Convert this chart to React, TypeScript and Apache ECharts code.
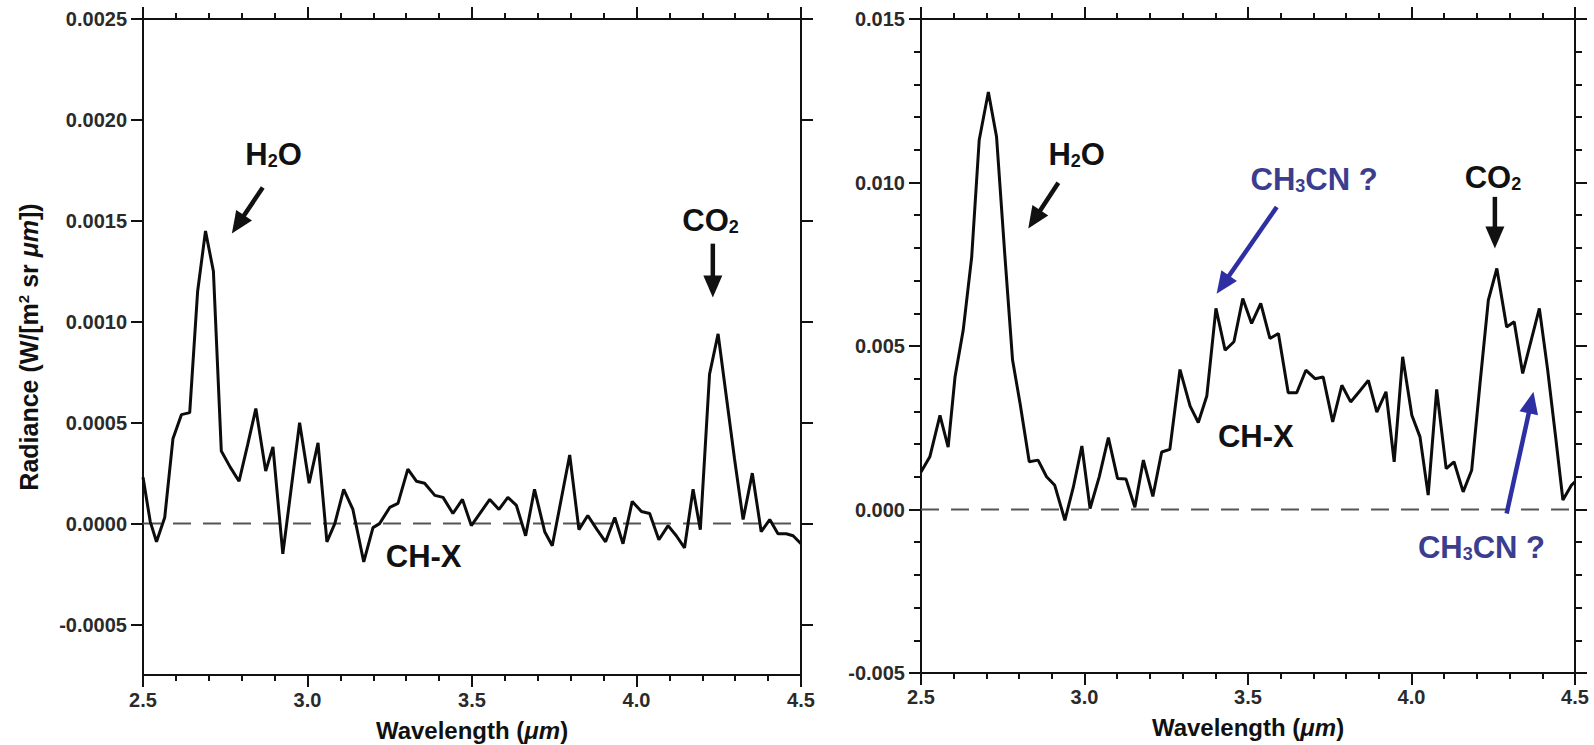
import React, { useEffect, useRef } from "react";
import * as echarts from "echarts";

// ---------- data ----------
const X_MIN = 2.5;
const X_MAX = 4.5;

const LEFT_WL = [
  2.5, 2.522, 2.541, 2.566, 2.591, 2.617, 2.642, 2.666, 2.69, 2.714, 2.738, 2.765, 2.792, 2.818,
  2.843, 2.873, 2.895, 2.925, 2.976, 3.005, 3.032, 3.059, 3.083, 3.11, 3.138, 3.171, 3.199, 3.219,
  3.25, 3.275, 3.305, 3.331, 3.356, 3.387, 3.412, 3.442, 3.471, 3.498, 3.554, 3.582, 3.609, 3.635,
  3.663, 3.69, 3.721, 3.744, 3.797, 3.825, 3.852, 3.88, 3.906, 3.934, 3.959, 3.987, 4.015, 4.04,
  4.068, 4.096, 4.121, 4.146, 4.172, 4.194, 4.222, 4.248, 4.273, 4.298, 4.324, 4.352, 4.379, 4.405,
  4.43, 4.455, 4.476, 4.5,
];
const LEFT_RAD = [
  0.00023, 0.00001, -0.00009, 0.00003, 0.00042, 0.00054, 0.00055, 0.00115, 0.00145, 0.00125,
  0.00036, 0.00028, 0.00021, 0.00039, 0.00057, 0.00026, 0.00038, -0.00015, 0.0005, 0.0002, 0.0004,
  -0.00009, 0.0, 0.00017, 0.00007, -0.00019, -0.00002, 0.0, 0.00008, 0.0001, 0.00027, 0.00021,
  0.0002, 0.00014, 0.00013, 0.00005, 0.00012, -0.00001, 0.00012, 0.00007, 0.00013, 0.00009,
  -0.00006, 0.00017, -0.00004, -0.00011, 0.00034, -0.00003, 0.00004, -0.00003, -0.00009, 0.00003,
  -0.0001, 0.00011, 0.00006, 0.00005, -0.00008, -0.00001, -0.00006, -0.00012, 0.00017, -0.00003,
  0.00074, 0.00094, 0.00063, 0.00032, 0.00002, 0.00025, -0.00004, 0.00002, -0.00005, -0.00005,
  -0.00006, -0.0001,
];

const RIGHT_WL = [
  2.5, 2.527, 2.558, 2.583, 2.604, 2.629, 2.655, 2.678, 2.706, 2.731, 2.756, 2.78, 2.803, 2.831,
  2.858, 2.884, 2.909, 2.94, 2.966, 2.992, 3.017, 3.045, 3.073, 3.101, 3.127, 3.154, 3.18, 3.209,
  3.236, 3.261, 3.292, 3.323, 3.348, 3.374, 3.402, 3.43, 3.457, 3.484, 3.511, 3.539, 3.567, 3.593,
  3.623, 3.649, 3.677, 3.705, 3.73, 3.759, 3.787, 3.814, 3.84, 3.868, 3.894, 3.922, 3.947, 3.973,
  4.001, 4.026, 4.051, 4.077, 4.106, 4.13, 4.158, 4.184, 4.209, 4.235, 4.261, 4.291, 4.314, 4.34,
  4.391, 4.416, 4.441, 4.463, 4.489, 4.5,
];
const RIGHT_RAD = [
  0.00115, 0.00161, 0.00288, 0.00191, 0.00405, 0.00548, 0.00772, 0.0113, 0.01277, 0.0114, 0.00783,
  0.00457, 0.00324, 0.00146, 0.00151, 0.001, 0.00074, -0.00033, 0.00069, 0.00194, 0.00003, 0.001,
  0.0022, 0.00095, 0.00093, 0.00007, 0.00151, 0.0004, 0.00176, 0.00184, 0.00428, 0.00316, 0.00266,
  0.00347, 0.00615, 0.00487, 0.00513, 0.00645, 0.00569, 0.0063, 0.00523, 0.00538, 0.00357, 0.00357,
  0.00426, 0.004, 0.00405, 0.00268, 0.0038, 0.00329, 0.0036, 0.00395, 0.00298, 0.0036, 0.00146,
  0.00467, 0.00288, 0.00222, 0.00044, 0.00367, 0.00125, 0.00146, 0.00054, 0.0012, 0.0038, 0.0064,
  0.00737, 0.00558, 0.00574, 0.00416, 0.00615, 0.0043, 0.0022, 0.00029, 0.00074, 0.00085,
];

const LEFT_Y_TICKS = [-0.0005, 0, 0.0005, 0.001, 0.0015, 0.002, 0.0025];
const LEFT_Y_RANGE = [-0.00075, 0.0025];
const RIGHT_Y_RANGE = [-0.005, 0.015];
const RIGHT_Y_STEP = 0.005;
const X_STEP = 0.5;

// annotations, in data coordinates of each panel
const INK = "#111111";
const BLUE_TEXT = "#3b3d8e";
const BLUE_ARROW = "#2d2fa3";

const LABELS = [
  { panel: 0, text: "{b|H}{s|2}{b|O}", at: [2.897, 0.00183], color: INK },
  { panel: 0, text: "{b|CO}{s|2}", at: [4.225, 0.0015], color: INK },
  { panel: 0, text: "{b|CH-X}", at: [3.353, -0.000164], color: INK },
  { panel: 1, text: "{b|H}{s|2}{b|O}", at: [2.976, 0.01087], color: INK },
  { panel: 1, text: "{b|CH}{s|3}{b|CN ?}", at: [3.702, 0.0101], color: BLUE_TEXT },
  { panel: 1, text: "{b|CO}{s|2}", at: [4.249, 0.01015], color: INK },
  { panel: 1, text: "{b|CH-X}", at: [3.524, 0.00222], color: INK },
  { panel: 1, text: "{b|CH}{s|3}{b|CN ?}", at: [4.214, -0.00117], color: BLUE_TEXT },
];

const ARROWS = [
  { panel: 0, from: [2.864, 0.001665], to: [2.77, 0.001437], color: INK },
  { panel: 0, from: [4.232, 0.001387], to: [4.232, 0.00112], color: INK },
  { panel: 1, from: [2.92, 0.00999], to: [2.828, 0.00859], color: INK },
  { panel: 1, from: [3.588, 0.00925], to: [3.404, 0.0066], color: BLUE_ARROW },
  { panel: 1, from: [4.255, 0.00956], to: [4.255, 0.00798], color: INK },
  { panel: 1, from: [4.291, -0.00012], to: [4.373, 0.0036], color: BLUE_ARROW },
];

// ---------- styling ----------
const FONT = "'Liberation Sans', Arial, Helvetica, sans-serif";
const AXIS_COLOR = "#111";
const TICK_LABEL_COLOR = "#2a2a2a";
// in this ECharts build, inside:false draws the ticks toward the plot
const TICKS_INSIDE = false;

function xAxes(gridIndex: number, labelMargin: number, nameGap: number) {
  const common = {
    type: "value",
    gridIndex,
    min: X_MIN,
    max: X_MAX,
    interval: X_STEP,
    axisLine: { show: true, onZero: false, lineStyle: { color: AXIS_COLOR, width: 2 } },
    axisTick: { show: true, inside: TICKS_INSIDE, length: 12, lineStyle: { color: AXIS_COLOR, width: 2 } },
    minorTick: { show: true, splitNumber: 5, length: 6, lineStyle: { color: AXIS_COLOR, width: 2 } },
    splitLine: { show: false },
    minorSplitLine: { show: false },
  };
  return [
    {
      ...common,
      position: "bottom",
      name: "{n|Wavelength (}{i|μm}{n|)}",
      nameLocation: "middle",
      nameGap,
      nameTextStyle: {
        rich: {
          n: { fontFamily: FONT, fontWeight: "bold", fontSize: 24, color: INK },
          i: { fontFamily: FONT, fontWeight: "bold", fontStyle: "italic", fontSize: 24, color: INK },
        },
      },
      axisLabel: {
        show: true,
        margin: labelMargin,
        fontFamily: FONT,
        fontWeight: "bold",
        fontSize: 20,
        color: TICK_LABEL_COLOR,
        formatter: (v: number) => v.toFixed(1),
      },
    },
    { ...common, position: "top", axisLabel: { show: false } },
  ];
}

function buildOption() {
  const leftY = {
    type: "value",
    gridIndex: 0,
    min: LEFT_Y_RANGE[0],
    max: LEFT_Y_RANGE[1],
    axisLine: { show: true, onZero: false, lineStyle: { color: AXIS_COLOR, width: 2 } },
    axisTick: {
      show: true,
      inside: TICKS_INSIDE,
      length: 12,
      customValues: LEFT_Y_TICKS,
      lineStyle: { color: AXIS_COLOR, width: 2 },
    },
    splitLine: { show: false },
  };
  const rightY = {
    type: "value",
    gridIndex: 1,
    min: RIGHT_Y_RANGE[0],
    max: RIGHT_Y_RANGE[1],
    interval: RIGHT_Y_STEP,
    axisLine: { show: true, onZero: false, lineStyle: { color: AXIS_COLOR, width: 2 } },
    axisTick: { show: true, inside: TICKS_INSIDE, length: 12, lineStyle: { color: AXIS_COLOR, width: 2 } },
    minorTick: { show: true, splitNumber: 5, length: 7, lineStyle: { color: AXIS_COLOR, width: 2 } },
    splitLine: { show: false },
    minorSplitLine: { show: false },
  };
  const yLabel = (digits: number) => ({
    show: true,
    margin: 16,
    fontFamily: FONT,
    fontWeight: "bold",
    fontSize: 20,
    color: TICK_LABEL_COLOR,
    formatter: (v: number) => (Math.abs(v) < 1e-12 ? 0 : v).toFixed(digits),
  });

  const baselineStyle = { color: "#555", width: 2, type: [18, 12] };
  const lineStyle = { color: "#0c0c0c", width: 3 };

  return {
    animation: false,
    backgroundColor: "#ffffff",
    grid: [
      { left: 143, top: 19, width: 658, height: 656, containLabel: false, outerBoundsMode: "none" },
      { left: 921, top: 19, width: 654, height: 654, containLabel: false, outerBoundsMode: "none" },
    ],
    xAxis: [...xAxes(0, 15, 43), ...xAxes(1, 14, 42)],
    yAxis: [
      {
        ...leftY,
        position: "left",
        name: "{n|Radiance (W/[m}{sup|2}{n| sr }{i|μm}{n|])}",
        nameLocation: "middle",
        nameGap: 102,
        nameRotate: 90,
        nameTextStyle: {
          rich: {
            n: { fontFamily: FONT, fontWeight: "bold", fontSize: 25, color: INK },
            sup: { fontFamily: FONT, fontWeight: "bold", fontSize: 15, color: INK, verticalAlign: "top" },
            i: { fontFamily: FONT, fontWeight: "bold", fontStyle: "italic", fontSize: 25, color: INK },
          },
        },
        axisLabel: { ...yLabel(4), customValues: LEFT_Y_TICKS },
      },
      { ...leftY, position: "right", axisLabel: { show: false } },
      { ...rightY, position: "left", axisLabel: yLabel(3) },
      { ...rightY, position: "right", axisLabel: { show: false } },
    ],
    series: [
      {
        type: "line",
        xAxisIndex: 0,
        yAxisIndex: 0,
        data: [
          [X_MIN, 0],
          [X_MAX, 0],
        ],
        showSymbol: false,
        silent: true,
        lineStyle: baselineStyle,
      },
      {
        type: "line",
        xAxisIndex: 0,
        yAxisIndex: 0,
        data: LEFT_WL.map((w, i) => [w, LEFT_RAD[i]]),
        showSymbol: false,
        lineStyle,
      },
      {
        type: "line",
        xAxisIndex: 2,
        yAxisIndex: 2,
        data: [
          [X_MIN, 0],
          [X_MAX, 0],
        ],
        showSymbol: false,
        silent: true,
        lineStyle: baselineStyle,
      },
      {
        type: "line",
        xAxisIndex: 2,
        yAxisIndex: 2,
        data: RIGHT_WL.map((w, i) => [w, RIGHT_RAD[i]]),
        showSymbol: false,
        lineStyle,
      },
    ],
  };
}

function buildGraphics(chart: any) {
  const seriesFor = (panel: number) => (panel === 0 ? 1 : 3);
  const toPx = (panel: number, p: number[]) =>
    chart.convertToPixel({ seriesIndex: seriesFor(panel) }, p) as number[];
  const els: any[] = [];

  ARROWS.forEach((a) => {
    const s = toPx(a.panel, a.from);
    const t = toPx(a.panel, a.to);
    const dx = t[0] - s[0];
    const dy = t[1] - s[1];
    const len = Math.hypot(dx, dy) || 1;
    const ux = dx / len;
    const uy = dy / len;
    const L = 22;
    const W = 9.5;
    const bx = t[0] - ux * L;
    const by = t[1] - uy * L;
    els.push({
      type: "line",
      silent: true,
      shape: { x1: s[0], y1: s[1], x2: bx + ux * 3, y2: by + uy * 3 },
      style: { stroke: a.color, lineWidth: 4.5 },
      z: 100,
    });
    els.push({
      type: "polygon",
      silent: true,
      shape: {
        points: [
          [t[0], t[1]],
          [bx - uy * W, by + ux * W],
          [bx + uy * W, by - ux * W],
        ],
      },
      style: { fill: a.color },
      z: 100,
    });
  });

  LABELS.forEach((l) => {
    const p = toPx(l.panel, l.at);
    els.push({
      type: "text",
      silent: true,
      x: p[0],
      y: p[1],
      z: 100,
      style: {
        text: l.text,
        align: "center",
        verticalAlign: "middle",
        fill: l.color,
        fontFamily: FONT,
        fontWeight: "bold",
        fontSize: 31,
        rich: {
          b: { fill: l.color, fontFamily: FONT, fontWeight: "bold", fontSize: 31, verticalAlign: "bottom" },
          s: { fill: l.color, fontFamily: FONT, fontWeight: "bold", fontSize: 18, verticalAlign: "bottom" },
        },
      },
    });
  });
  return els;
}

export default function App() {
  const ref = useRef<HTMLDivElement>(null);
  useEffect(() => {
    if (!ref.current) return;
    const chart = echarts.init(ref.current, undefined, { renderer: "svg" });
    chart.setOption(buildOption() as any);
    chart.setOption({ graphic: buildGraphics(chart) } as any);
    return () => chart.dispose();
  }, []);
  return (
    <div
      ref={ref}
      style={{ position: "fixed", left: 0, top: 0, width: 1594, height: 745, background: "#fff" }}
    />
  );
}
